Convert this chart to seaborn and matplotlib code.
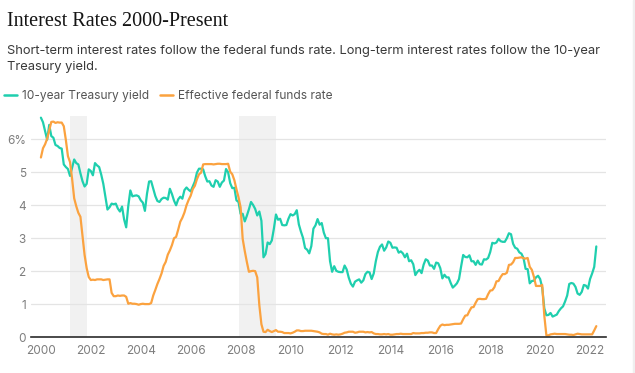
import numpy as np
import pandas as pd
import seaborn as sns
import matplotlib.pyplot as plt
from matplotlib.lines import Line2D

# DATA (monthly averages, Jan 2000 - Apr 2022)
treasury_10y = [
    6.66, 6.52, 6.26, 5.99, 6.44, 6.10, 6.05, 5.83, 5.80, 5.74, 5.72, 5.24,
    5.16, 5.10, 4.89, 5.14, 5.39, 5.28, 5.24, 4.97, 4.73, 4.57, 4.65, 5.09,
    5.04, 4.91, 5.28, 5.21, 5.16, 4.93, 4.65, 4.26, 3.87, 3.94, 4.05, 4.03,
    4.05, 3.90, 3.81, 3.96, 3.57, 3.33, 3.98, 4.45, 4.27, 4.29, 4.30, 4.27,
    4.15, 4.08, 3.83, 4.35, 4.72, 4.73, 4.50, 4.28, 4.13, 4.10, 4.19, 4.23,
    4.22, 4.17, 4.50, 4.34, 4.14, 4.00, 4.18, 4.26, 4.20, 4.46, 4.54, 4.47,
    4.42, 4.57, 4.72, 4.99, 5.11, 5.11, 5.09, 4.88, 4.72, 4.73, 4.60, 4.56,
    4.76, 4.72, 4.56, 4.69, 4.75, 5.10, 5.00, 4.67, 4.52, 4.53, 4.15, 4.10,
    3.74, 3.74, 3.51, 3.68, 3.88, 4.10, 4.01, 3.89, 3.69, 3.81, 3.53, 2.42,
    2.52, 2.87, 2.82, 2.93, 3.29, 3.72, 3.56, 3.59, 3.40, 3.39, 3.40, 3.59,
    3.73, 3.69, 3.73, 3.85, 3.42, 3.20, 3.01, 2.70, 2.65, 2.54, 2.76, 3.29,
    3.39, 3.58, 3.41, 3.46, 3.17, 3.00, 3.00, 2.30, 1.98, 2.15, 2.01, 1.98,
    1.97, 1.97, 2.17, 2.05, 1.80, 1.62, 1.53, 1.68, 1.72, 1.75, 1.65, 1.72,
    1.91, 1.98, 1.96, 1.76, 1.93, 2.30, 2.58, 2.74, 2.81, 2.62, 2.72, 2.90,
    2.86, 2.71, 2.72, 2.71, 2.56, 2.60, 2.54, 2.42, 2.53, 2.30, 2.33, 2.21,
    1.88, 1.98, 2.04, 1.94, 2.20, 2.36, 2.32, 2.17, 2.17, 2.07, 2.26, 2.24,
    2.09, 1.78, 1.89, 1.81, 1.81, 1.64, 1.50, 1.56, 1.63, 1.76, 2.14, 2.49,
    2.43, 2.42, 2.48, 2.30, 2.30, 2.19, 2.32, 2.21, 2.20, 2.36, 2.35, 2.40,
    2.58, 2.86, 2.84, 2.87, 2.98, 2.91, 2.89, 2.89, 3.00, 3.15, 3.12, 2.83,
    2.71, 2.68, 2.57, 2.53, 2.40, 2.07, 2.06, 1.63, 1.70, 1.71, 1.81, 1.86,
    1.76, 1.50, 0.87, 0.66, 0.67, 0.73, 0.62, 0.65, 0.68, 0.79, 0.87, 0.93,
    1.08, 1.26, 1.61, 1.64, 1.62, 1.52, 1.32, 1.28, 1.37, 1.58, 1.56, 1.47,
    1.76, 1.93, 2.13, 2.75,
]
fed_funds = [
    5.45, 5.73, 5.85, 6.02, 6.27, 6.53, 6.54, 6.50, 6.52, 6.51, 6.51, 6.40,
    5.98, 5.49, 5.31, 4.80, 4.21, 3.97, 3.77, 3.65, 3.07, 2.49, 2.09, 1.82,
    1.73, 1.74, 1.73, 1.75, 1.75, 1.75, 1.73, 1.74, 1.75, 1.75, 1.34, 1.24,
    1.24, 1.26, 1.25, 1.26, 1.26, 1.22, 1.01, 1.03, 1.01, 1.01, 1.00, 0.98,
    1.00, 1.01, 1.00, 1.00, 1.00, 1.03, 1.26, 1.43, 1.61, 1.76, 1.93, 2.16,
    2.28, 2.50, 2.63, 2.79, 3.00, 3.04, 3.26, 3.50, 3.62, 3.78, 4.00, 4.16,
    4.29, 4.49, 4.59, 4.79, 4.94, 4.99, 5.24, 5.25, 5.25, 5.25, 5.25, 5.24,
    5.25, 5.26, 5.26, 5.25, 5.25, 5.25, 5.26, 5.02, 4.94, 4.76, 4.49, 4.24,
    3.94, 2.98, 2.61, 2.28, 1.98, 2.00, 2.01, 2.00, 1.81, 0.97, 0.39, 0.16,
    0.15, 0.22, 0.18, 0.15, 0.18, 0.21, 0.16, 0.16, 0.15, 0.12, 0.12, 0.12,
    0.11, 0.13, 0.16, 0.20, 0.20, 0.18, 0.18, 0.19, 0.19, 0.19, 0.19, 0.18,
    0.17, 0.16, 0.14, 0.10, 0.09, 0.09, 0.07, 0.10, 0.08, 0.07, 0.08, 0.07,
    0.08, 0.10, 0.13, 0.14, 0.16, 0.16, 0.16, 0.13, 0.14, 0.16, 0.16, 0.16,
    0.14, 0.15, 0.14, 0.15, 0.11, 0.09, 0.09, 0.08, 0.08, 0.09, 0.08, 0.09,
    0.07, 0.07, 0.08, 0.09, 0.09, 0.10, 0.09, 0.09, 0.09, 0.09, 0.09, 0.12,
    0.11, 0.11, 0.11, 0.12, 0.12, 0.13, 0.13, 0.14, 0.14, 0.12, 0.12, 0.24,
    0.34, 0.38, 0.36, 0.37, 0.37, 0.38, 0.39, 0.40, 0.40, 0.40, 0.41, 0.54,
    0.65, 0.66, 0.79, 0.90, 0.91, 1.04, 1.15, 1.16, 1.15, 1.15, 1.16, 1.30,
    1.41, 1.42, 1.51, 1.69, 1.70, 1.82, 1.91, 1.91, 1.95, 2.19, 2.20, 2.27,
    2.40, 2.40, 2.41, 2.42, 2.39, 2.38, 2.40, 2.13, 2.04, 1.83, 1.55, 1.55,
    1.55, 1.58, 0.65, 0.05, 0.05, 0.08, 0.09, 0.10, 0.09, 0.09, 0.09, 0.09,
    0.09, 0.08, 0.07, 0.07, 0.06, 0.08, 0.10, 0.09, 0.08, 0.08, 0.08, 0.08,
    0.08, 0.08, 0.20, 0.33,
]
recessions = [(2001.17, 2001.83), (2007.92, 2009.42)]
year_ticks = list(range(2000, 2023, 2))
rate_ticks = [0, 1, 2, 3, 4, 5, 6]
rate_labels = ["0", "1", "2", "3", "4", "5", "6%"]

series_names = ["10-year Treasury yield", "Effective federal funds rate"]
colors = {"10-year Treasury yield": "#1fcfae", "Effective federal funds rate": "#fba23f"}

months = np.arange(len(treasury_10y))
dates = 2000 + months / 12
df = pd.concat([
    pd.DataFrame({"date": dates, "rate": treasury_10y, "series": series_names[0]}),
    pd.DataFrame({"date": dates, "rate": fed_funds, "series": series_names[1]}),
])

sns.set_theme(style="white")
plt.rcParams["font.family"] = ["Inter", "DejaVu Sans"]

fig = plt.figure(figsize=(6.35, 3.73), dpi=100)
ax = fig.add_axes([0.0483, 0.0965, 0.9057, 0.5925])

# recession bands
for start, end in recessions:
    ax.axvspan(start, end, color="#f1f1f1", lw=0, zorder=0)

sns.lineplot(data=df, x="date", y="rate", hue="series", palette=colors,
             linewidth=1.6, ax=ax, legend=False, zorder=3)

ax.set_xlim(1999.59, 2022.63)
ax.set_ylim(0, 6.71)
ax.set_xticks(year_ticks)
ax.set_xticklabels([str(y) for y in year_ticks])
ax.set_yticks(rate_ticks)
ax.set_yticklabels(rate_labels)
ax.grid(axis="y", color="#e4e4e4", lw=0.9)
ax.set_axisbelow(True)
ax.tick_params(axis="both", length=0, labelsize=8.5, colors="#7d7d7d")
ax.tick_params(axis="y", pad=3.5)
ax.tick_params(axis="x", pad=6)
ax.set_xlabel("")
ax.set_ylabel("")
for side in ["top", "right", "left"]:
    ax.spines[side].set_visible(False)
ax.spines["bottom"].set_color("#2b2b2b")
ax.spines["bottom"].set_linewidth(1.2)
ax.spines["bottom"].set_zorder(4)

fig.text(0.011, 0.93, "Interest Rates 2000-Present", fontsize=14.5,
         family=["Liberation Serif"], color="#151515", va="baseline")
fig.text(0.011, 0.856, "Short-term interest rates follow the federal funds rate. "
         "Long-term interest rates follow the 10-year", fontsize=9.3,
         color="#3a3a3a", va="baseline")
fig.text(0.011, 0.812, "Treasury yield.", fontsize=9.3, color="#3a3a3a", va="baseline")

handles = [Line2D([], [], color=colors[n], lw=1.8) for n in series_names]
fig.legend(handles, series_names, loc="center left", bbox_to_anchor=(0.0, 0.742),
           ncol=2, frameon=False, fontsize=8.6, handlelength=1.1, handletextpad=0.45,
           columnspacing=0.9, labelcolor="#555555", borderaxespad=0, borderpad=0.3)

fig.patches.append(plt.Rectangle((0.9965, 0), 0.01, 1, transform=fig.transFigure,
                                 color="#efefef", zorder=0))

fig.savefig("out.png", dpi=100)
